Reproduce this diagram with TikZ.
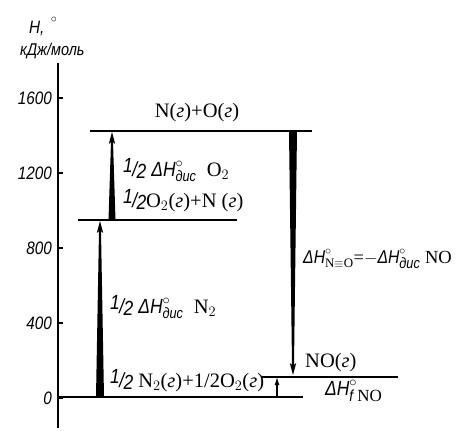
\documentclass[tikz,border=0pt]{standalone}
\usepackage{amsmath}
\usepackage{fontspec}
\setmainfont{Liberation Serif}
\newfontfamily\isfam{Liberation Sans}[FakeStretch=0.85]
\newcommand{\isf}{\isfam\itshape}
\usetikzlibrary{positioning, arrows.meta, calc}

\newcommand{\gm}{{\itshape г}}
\newcommand{\half}{{\isf\raisebox{.3ex}{1}\kern-.02em/\kern-.04em\raisebox{-.2ex}{2}}}
\newcommand{\dH}{\text{\isf ΔH}}
\newcommand{\dis}{\text{\isf\fontsize{15}{15}\selectfont дис}}

% filled wedge arrow: wide end, tip, half width
\newcommand{\wedgearr}[3]{%
  \fill let \p1=(#1), \p2=(#2), \n1={sign(\y2-\y1)} in
    (\x1-#3,\y1) -- (\x1+#3,\y1) -- (\x2+1pt,\y2-\n1*10pt)
    -- (\x2+3.2pt,\y2-\n1*12pt) -- (\x2,\y2) -- (\x2-3.2pt,\y2-\n1*12pt)
    -- (\x2-1pt,\y2-\n1*10pt) -- cycle;}

\begin{document}
\begin{tikzpicture}[
  x=1pt, y=-1pt,
  every node/.style={inner sep=0pt, font=\fontsize{20.5}{22}\selectfont},
  tick/.style={anchor=east, font=\isf\fontsize{18}{20}\selectfont},
  lbl/.style={anchor=base west},
  lvl/.style={line width=2pt},
  smallarr/.style={line width=1.2pt, -{Latex[length=8pt, width=5pt]}}
]
\useasboundingbox (0,0) rectangle (459,432);

% axis
\coordinate (axtop) at (58,63);
\coordinate (axbot) at (58,428);
\draw[line width=1.6pt] (axtop) -- (axbot);
\foreach \v/\y in {0/398,400/323,800/248,1200/173,1600/98} {
  \draw[line width=1.2pt] (58,\y) -- (63,\y);
  \node[tick] (t\v) at (52,\y) {\v};
}
\node[lbl, font=\isf\fontsize{18}{20}\selectfont] (hlab) at (29,33) {H,\kern.35em\raisebox{1.1ex}{\(\scriptstyle\circ\)}};
\node[lbl, font=\isf\fontsize{17}{19}\selectfont] (unit) at (20,55) {кДж/моль};

% levels
\coordinate (topL) at (90,131);  \coordinate (topR) at (312,131);
\coordinate (midL) at (78,220);  \coordinate (midR) at (237,220);
\coordinate (zeroL) at (58,397); \coordinate (zeroR) at (303,397);
\coordinate (noL) at (262,377);  \coordinate (noR) at (398,377);
\draw[lvl] (topL) -- (topR);
\draw[lvl] (midL) -- (midR);
\draw[lvl] (zeroL) -- (zeroR);
\draw[lvl] (noL) -- (noR);

% arrows
\coordinate (a1s) at (100,397); \coordinate (a1e) at (100,221);
\coordinate (a2s) at (112,220); \coordinate (a2e) at (112,132);
\coordinate (a3s) at (293,131); \coordinate (a3e) at (293,375);
\coordinate (a4s) at (277,396); \coordinate (a4e) at (277,377);
\wedgearr{a1s}{a1e}{4pt}
\wedgearr{a2s}{a2e}{3.5pt}
\wedgearr{a3s}{a3e}{4pt}
\draw[smallarr] (a4s) -- (a4e);

% labels
\node[anchor=base] (ntop) at (197,117) {N(\gm)+O(\gm)};
\node[lbl] (dho2) at (123,176) {\half\ \(\dH^{\circ}_{\dis}\)\ \ O\(_2\)};
\node[lbl] (nmid) at (123,207) {\half O\(_2\)(\gm)+N (\gm)};
\node[lbl] (dhn2) at (110,313) {\half\ \(\dH^{\circ}_{\dis}\)\ \ N\(_2\)};
\node[lbl, font=\fontsize{18.5}{20}\selectfont] (dhno) at (303,263) {\(\dH^{\circ}_{\text{N}\equiv\text{O}}\)=\(-\dH^{\circ}_{\dis}\)\ NO};
\node[lbl] (nno) at (305,367) {NO(\gm)};
\node[lbl] (nzero) at (110,387) {\half\ N\(_2\)(\gm)+1/2O\(_2\)(\gm)};
\node[lbl] (dhf) at (325,395) {\(\dH^{\circ}_{\text{\isf\fontsize{16}{16}\selectfont f}\;\text{\fontsize{17}{17}\selectfont NO}}\)};
\end{tikzpicture}
\end{document}
